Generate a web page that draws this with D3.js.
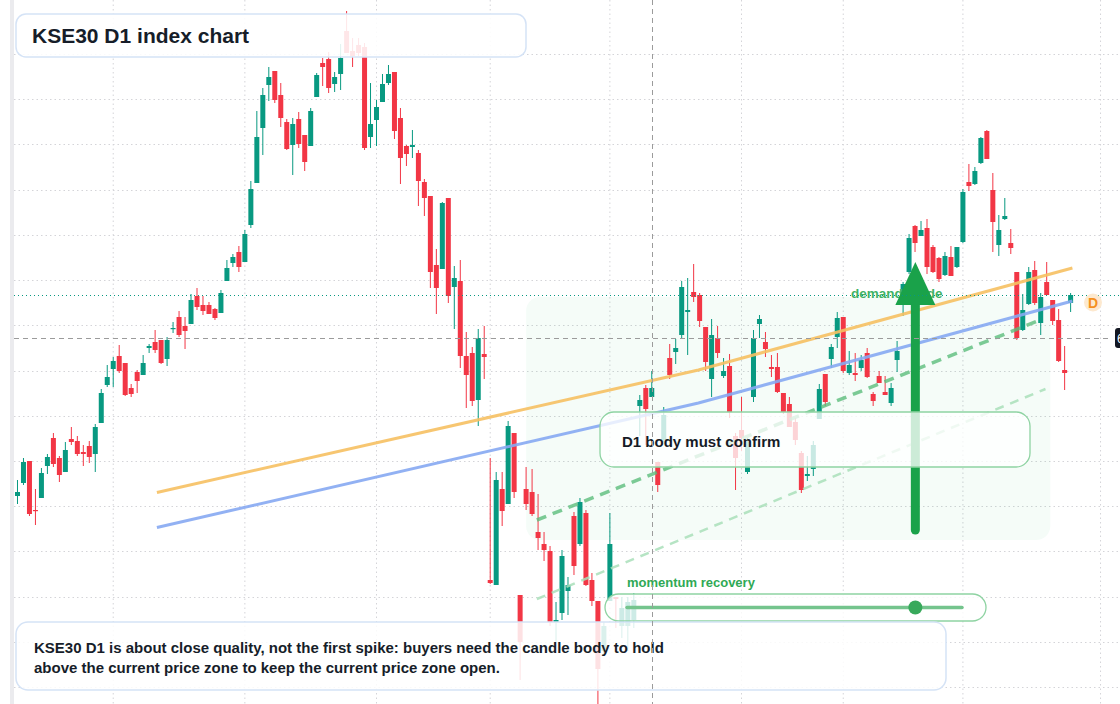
<!DOCTYPE html>
<html>
<head>
<meta charset="utf-8">
<script src="https://cdn.jsdelivr.net/npm/d3@7"></script>
<style>
  body { margin: 0; background: #fff; }
  svg { display: block; font-family: "Liberation Sans", Arial, Helvetica, sans-serif; }
</style>
</head>
<body>
<div id="chart"></div>
<script>
var svgWidth = 1120;
var svgHeight = 704;

// D1 candles, one entry per trading day (index = position on the time axis)
var opens = [
  504, 517, 539, 490, 502, 534, 562, 542, 528, 561, 559, 548, 554, 546, 577, 615, 631, 644, 637, 612,
  628, 625, 652, 658, 660, 641, 671, 683, 674, 676, 704, 695, 695, 691, 687, 719, 737, 748, 738, 775,
  817, 872, 915, 929, 905, 878, 855, 881, 865, 854, 903, 937, 941, 916, 926, 969, 949, 955, 953, 863,
  880, 898, 917, 928, 882, 854, 853, 847, 818, 804, 735, 731, 802, 713, 719, 644, 647, 600, 646, 420,
  415, 511, 496, 567, 405, 511, 508, 468, 456, 449, 378, 387, 409, 484, 456, 487, 420, 399, 349, 399,
  403, 374, 374, 380, 594, 612, 603, 538, 560, 642, 648, 665, 688, 708, 705, 673, 621, 662, 624, 634,
  564, 570, 528, 603, 676, 658, 633, 633, 607, 596, 578, 547, 524, 531, 581, 626, 641, 663, 683, 627,
  627, 632, 647, 606, 624, 608, 597, 640, 700, 728, 774, 764, 772, 753, 742, 725, 743, 733, 758, 818,
  816, 837, 869, 810, 755, 781, 757, 728, 670, 696, 730, 677, 718, 700, 680, 630, 697
];
var highs = [
  520, 542, 539, 511, 532, 546, 567, 544, 558, 573, 564, 555, 559, 576, 611, 635, 643, 655, 637, 616,
  630, 645, 656, 670, 660, 663, 678, 689, 683, 706, 712, 704, 698, 692, 710, 740, 746, 754, 770, 819,
  889, 912, 933, 929, 917, 881, 882, 888, 865, 892, 927, 942, 948, 928, 956, 989, 962, 962, 957, 917,
  900, 926, 935, 928, 892, 855, 870, 850, 821, 804, 751, 798, 802, 734, 740, 668, 653, 671, 674, 542,
  528, 528, 579, 567, 405, 533, 531, 506, 468, 454, 398, 450, 423, 488, 502, 490, 427, 399, 378, 487,
  403, 403, 403, 407, 605, 615, 629, 538, 593, 656, 661, 719, 722, 736, 707, 673, 681, 674, 642, 646,
  567, 603, 562, 670, 685, 668, 645, 647, 607, 603, 582, 549, 544, 559, 616, 626, 656, 688, 683, 649,
  647, 645, 652, 608, 629, 624, 617, 659, 718, 766, 775, 779, 781, 755, 743, 748, 754, 753, 811, 836,
  833, 863, 870, 827, 785, 802, 771, 728, 706, 733, 739, 707, 738, 700, 691, 654, 707
];
var lows = [
  496, 515, 484, 475, 502, 526, 533, 518, 528, 555, 544, 534, 537, 528, 577, 613, 613, 627, 604, 603,
  607, 625, 647, 647, 636, 634, 667, 663, 651, 676, 690, 685, 686, 680, 687, 719, 733, 728, 738, 772,
  817, 845, 899, 897, 873, 850, 825, 852, 829, 854, 903, 914, 907, 908, 910, 947, 933, 944, 850, 852,
  854, 898, 915, 861, 816, 834, 842, 794, 784, 712, 686, 731, 697, 671, 632, 592, 594, 574, 621, 416,
  415, 474, 496, 502, 320, 490, 484, 450, 439, 374, 358, 380, 385, 425, 454, 414, 394, 296, 345, 399,
  372, 362, 349, 372, 564, 555, 603, 508, 558, 621, 636, 662, 645, 698, 673, 629, 603, 642, 622, 582,
  510, 549, 526, 598, 662, 643, 623, 607, 586, 573, 555, 507, 519, 524, 581, 594, 632, 652, 627, 625,
  619, 629, 622, 594, 617, 605, 594, 628, 684, 726, 748, 764, 726, 727, 718, 724, 724, 732, 757, 809,
  815, 836, 841, 748, 744, 780, 746, 660, 669, 695, 695, 665, 705, 675, 638, 610, 688
];
var closes = [
  508, 538, 486, 489, 527, 543, 536, 525, 550, 558, 546, 546, 543, 573, 607, 623, 639, 629, 605, 606,
  619, 637, 654, 650, 637, 660, 672, 665, 669, 700, 693, 689, 686, 682, 707, 732, 743, 733, 766, 811,
  863, 905, 923, 900, 882, 851, 876, 856, 838, 889, 925, 933, 912, 923, 942, 947, 944, 947, 852, 876,
  893, 916, 926, 869, 842, 846, 855, 819, 802, 728, 712, 797, 704, 722, 644, 625, 599, 662, 643, 417,
  520, 489, 574, 508, 358, 496, 486, 462, 450, 378, 380, 444, 415, 434, 498, 415, 399, 331, 374, 456,
  401, 392, 398, 400, 600, 591, 612, 515, 585, 625, 652, 713, 690, 703, 679, 638, 665, 647, 629, 588,
  542, 562, 558, 662, 681, 651, 631, 608, 588, 573, 560, 510, 526, 555, 611, 598, 653, 682, 629, 635,
  625, 640, 623, 599, 617, 605, 612, 649, 716, 762, 757, 770, 733, 728, 721, 744, 724, 753, 808, 814,
  829, 862, 841, 778, 770, 784, 752, 662, 690, 728, 697, 703, 705, 679, 639, 627, 705
];

// grid: price levels and first trading day of each month
var gridPrices = [946, 901, 856, 810, 765, 720, 675, 629, 584, 539, 494, 449, 403, 358, 313];
var monthStarts = [16, 38, 60, 79, 99, 121, 138, 158, 181];

// drawings, as [day index, price]
var orangeLine = [[23.3, 507.5], [113.8, 630], [176.3, 732]];
var blueLine = [[23.3, 472.5], [113.8, 597], [176.3, 699]];
var confirmLine = [[86.8, 480], [170.5, 679]];
var recoveryLine = [[86.8, 401], [171.8, 611]];
var zoneDays = [85, 172.6];
var zonePrices = [460, 703];
var arrowDay = 150.05;
var arrowPrices = [470, 738];
var lastPrice = 705;
var crossDay = 106;
var crossPrice = 662;

var upColor = "#089981";
var downColor = "#f23645";

var svg = d3.select("#chart")
  .append("svg")
  .attr("width", svgWidth)
  .attr("height", svgHeight);

var x = d3.scaleLinear().domain([-0.5, 183.5]).range([14.5, 1115.5]);
var y = d3.scaleLinear().domain([1000, 296]).range([0, 704]);

var candles = opens.map(function(o, i) {
  return { i: i, o: o, h: highs[i], l: lows[i], c: closes[i] };
});

// left edge strip
svg.append("rect")
  .attr("x", 10).attr("y", 0).attr("width", 4).attr("height", svgHeight)
  .attr("fill", "#ebebee");

// grid
svg.append("g").selectAll("line")
  .data(gridPrices)
  .enter().append("line")
  .attr("x1", 14).attr("x2", svgWidth)
  .attr("y1", d => Math.round(y(d)) + 0.5)
  .attr("y2", d => Math.round(y(d)) + 0.5)
  .attr("stroke", "#d4d4d8")
  .attr("stroke-dasharray", "1.5,3");

svg.append("g").selectAll("line")
  .data(monthStarts)
  .enter().append("line")
  .attr("x1", d => x(d)).attr("x2", d => x(d))
  .attr("y1", 0).attr("y2", svgHeight)
  .attr("stroke", "#d4d4d8")
  .attr("stroke-dasharray", "1.5,3");

// demand zone shading
svg.append("rect")
  .attr("x", x(zoneDays[0]))
  .attr("y", y(zonePrices[1]))
  .attr("width", x(zoneDays[1]) - x(zoneDays[0]))
  .attr("height", y(zonePrices[0]) - y(zonePrices[1]))
  .attr("rx", 14)
  .attr("fill", "#22c55e")
  .attr("fill-opacity", 0.045);

// candles
var candleGroup = svg.append("g");

candleGroup.selectAll("line")
  .data(candles)
  .enter().append("line")
  .attr("x1", d => x(d.i)).attr("x2", d => x(d.i))
  .attr("y1", d => y(d.h)).attr("y2", d => y(d.l))
  .attr("stroke", d => d.c >= d.o ? upColor : downColor)
  .attr("stroke-width", 1);

candleGroup.selectAll("rect")
  .data(candles)
  .enter().append("rect")
  .attr("x", d => x(d.i) - 2.5)
  .attr("width", 5)
  .attr("y", d => y(Math.max(d.o, d.c)))
  .attr("height", d => Math.max(1.2, Math.abs(y(d.o) - y(d.c))))
  .attr("fill", d => d.c >= d.o ? upColor : downColor);

// trend lines
var path = d3.line().x(d => x(d[0])).y(d => y(d[1]));

svg.append("path").datum(orangeLine)
  .attr("d", path).attr("fill", "none")
  .attr("stroke", "#f6c062").attr("stroke-opacity", 0.9)
  .attr("stroke-width", 3);

svg.append("path").datum(blueLine)
  .attr("d", path).attr("fill", "none")
  .attr("stroke", "#86a8f2").attr("stroke-opacity", 0.9)
  .attr("stroke-width", 3);

svg.append("path").datum(confirmLine)
  .attr("d", path).attr("fill", "none")
  .attr("stroke", "#5dbd7c").attr("stroke-opacity", 0.8)
  .attr("stroke-width", 3.5)
  .attr("stroke-dasharray", "10,7");

svg.append("path").datum(recoveryLine)
  .attr("d", path).attr("fill", "none")
  .attr("stroke", "#a9dfba").attr("stroke-opacity", 0.85)
  .attr("stroke-width", 2.5)
  .attr("stroke-dasharray", "9,7");

// zone label (the arrow head covers its middle)
svg.append("text")
  .attr("x", 851).attr("y", y(zonePrices[1]) + 1)
  .attr("font-size", 13.5).attr("font-weight", "bold")
  .attr("fill", "#3fb265")
  .text("demand guide");

// big arrow
var ax = x(arrowDay);
var tipY = y(arrowPrices[1]);
svg.append("line")
  .attr("x1", ax).attr("x2", ax)
  .attr("y1", y(arrowPrices[0])).attr("y2", tipY + 40)
  .attr("stroke", "#1aa24a").attr("stroke-width", 9)
  .attr("stroke-linecap", "round");
svg.append("path")
  .attr("d", `M${ax - 20},${tipY + 43} L${ax},${tipY} L${ax + 20},${tipY + 43} Z`)
  .attr("fill", "#1aa24a");

// D1 confirm box
svg.append("rect")
  .attr("x", 600).attr("y", 412).attr("width", 430).attr("height", 55)
  .attr("rx", 14)
  .attr("fill", "#fff").attr("fill-opacity", 0.78)
  .attr("stroke", "#8ed3a2").attr("stroke-width", 1.3);
svg.append("text")
  .attr("x", 622).attr("y", 447)
  .attr("font-size", 15).attr("font-weight", "bold")
  .attr("fill", "#151b26")
  .text("D1 body must confirm");

// momentum recovery slider
svg.append("text")
  .attr("x", 627).attr("y", 587)
  .attr("font-size", 13).attr("font-weight", "bold")
  .attr("fill", "#2fa955")
  .text("momentum recovery");
svg.append("rect")
  .attr("x", 605).attr("y", 594).attr("width", 381).attr("height", 27)
  .attr("rx", 13.5)
  .attr("fill", "#fff").attr("fill-opacity", 0.8)
  .attr("stroke", "#8ed3a2").attr("stroke-width", 1.3);
svg.append("line")
  .attr("x1", 627).attr("x2", 962).attr("y1", 607.5).attr("y2", 607.5)
  .attr("stroke", "#74c48d").attr("stroke-width", 3.5)
  .attr("stroke-linecap", "round");
svg.append("circle")
  .attr("cx", ax).attr("cy", 607.5).attr("r", 7)
  .attr("fill", "#38a95b");

// title box
svg.append("rect")
  .attr("x", 16).attr("y", 14).attr("width", 510).attr("height", 43)
  .attr("rx", 10)
  .attr("fill", "#fff").attr("fill-opacity", 0.88)
  .attr("stroke", "#d5e3f6").attr("stroke-width", 1.5);
svg.append("text")
  .attr("x", 32).attr("y", 43)
  .attr("font-size", 21).attr("font-weight", "bold")
  .attr("fill", "#161d29")
  .text("KSE30 D1 index chart");

// note box
svg.append("rect")
  .attr("x", 16).attr("y", 622).attr("width", 930).attr("height", 68)
  .attr("rx", 12)
  .attr("fill", "#fff").attr("fill-opacity", 0.85)
  .attr("stroke", "#d5e3f6").attr("stroke-width", 1.5);
svg.append("text")
  .attr("x", 34).attr("y", 653)
  .attr("font-size", 15).attr("font-weight", "bold")
  .attr("fill", "#161d29")
  .text("KSE30 D1 is about close quality, not the first spike: buyers need the candle body to hold");
svg.append("text")
  .attr("x", 34).attr("y", 673)
  .attr("font-size", 15).attr("font-weight", "bold")
  .attr("fill", "#161d29")
  .text("above the current price zone to keep the current price zone open.");

// last price line
svg.append("line")
  .attr("x1", 14).attr("x2", svgWidth)
  .attr("y1", Math.round(y(lastPrice)) + 0.5).attr("y2", Math.round(y(lastPrice)) + 0.5)
  .attr("stroke", upColor)
  .attr("stroke-dasharray", "1,3");

// crosshair
svg.append("line")
  .attr("x1", 14).attr("x2", 1110)
  .attr("y1", Math.round(y(crossPrice)) + 0.5).attr("y2", Math.round(y(crossPrice)) + 0.5)
  .attr("stroke", "#9b9b9b")
  .attr("stroke-dasharray", "5,4");
svg.append("line")
  .attr("x1", Math.round(x(crossDay)) + 0.5).attr("x2", Math.round(x(crossDay)) + 0.5)
  .attr("y1", 0).attr("y2", svgHeight)
  .attr("stroke", "#9b9b9b")
  .attr("stroke-dasharray", "5,4");

// crosshair price label (cut by the edge)
svg.append("rect")
  .attr("x", 1115).attr("y", y(crossPrice) - 10)
  .attr("width", 50).attr("height", 20).attr("rx", 3)
  .attr("fill", "#131722");
svg.append("text")
  .attr("x", 1117).attr("y", y(crossPrice) + 4.5)
  .attr("font-size", 12).attr("fill", "#fff")
  .text(crossPrice.toFixed(2));

// "D" badge next to last candle
svg.append("circle")
  .attr("cx", 1093).attr("cy", y(lastPrice) + 7.5).attr("r", 9)
  .attr("fill", "#fde9cf");
svg.append("text")
  .attr("x", 1093).attr("y", y(lastPrice) + 12.5)
  .attr("text-anchor", "middle")
  .attr("font-size", 14).attr("font-weight", "bold")
  .attr("fill", "#f5901e")
  .text("D");
</script>
</body>
</html>
